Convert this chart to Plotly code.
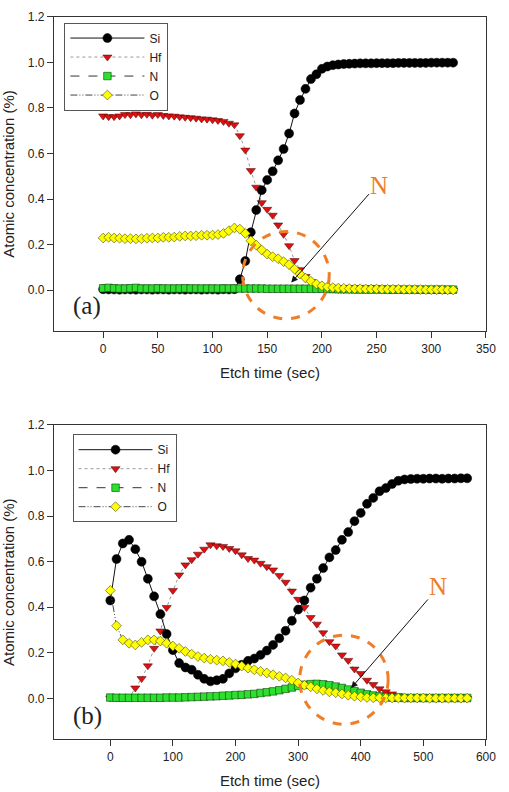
import plotly.graph_objects as go

# ---------------- data: panel (a) ----------------
t_a = [0, 5, 10, 15, 20, 25, 30, 35, 40, 45, 50, 55, 60, 65, 70, 75, 80, 85, 90, 95,
       100, 105, 110, 115, 120, 125, 130, 135, 140, 145, 150, 155, 160, 165, 170, 175,
       180, 185, 190, 195, 200, 205, 210, 215, 220, 225, 230, 235, 240, 245, 250, 255,
       260, 265, 270, 275, 280, 285, 290, 295, 300, 305, 310, 315, 320]

si_a = [0.004, 0.003, 0.003, 0.002, 0.003, 0.003, 0.002, 0.003, 0.003, 0.002, 0.003, 0.003,
        0.002, 0.003, 0.003, 0.002, 0.003, 0.003, 0.002, 0.003, 0.003, 0.002, 0.004, 0.003,
        0.004, 0.048, 0.128, 0.254, 0.352, 0.439, 0.484, 0.522, 0.570, 0.620, 0.688, 0.776,
        0.835, 0.884, 0.927, 0.948, 0.972, 0.982, 0.988, 0.991, 0.993, 0.994, 0.995, 0.996,
        0.996, 0.996, 0.997, 0.997, 0.997, 0.997, 0.998, 0.998, 0.998, 0.998, 0.998, 0.998,
        0.999, 0.999, 0.999, 0.999, 0.999]

hf_a = [0.765, 0.762, 0.762, 0.765, 0.771, 0.770, 0.774, 0.770, 0.772, 0.768, 0.771, 0.767,
        0.765, 0.764, 0.761, 0.759, 0.757, 0.755, 0.752, 0.751, 0.748, 0.745, 0.741, 0.733,
        0.726, 0.678, 0.615, 0.525, 0.452, 0.384, 0.355, 0.329, 0.286, 0.245, 0.195, 0.130,
        0.090, 0.060, 0.038, 0.022, 0.012, 0.007, 0.004, 0.003, 0.002, 0.002, 0.001, 0.001,
        0.001, 0.001, 0.001, 0.001, 0.001, 0.001, 0.001, 0.001, 0.001, 0.001, 0.001, 0.001,
        0.000, 0.000, 0.000, 0.000, 0.000]

n_a = [0.008, 0.010, 0.008, 0.007, 0.007, 0.008, 0.010, 0.007, 0.007, 0.007, 0.008, 0.007,
       0.007, 0.007, 0.007, 0.008, 0.007, 0.007, 0.007, 0.007, 0.007, 0.007, 0.007, 0.007,
       0.007, 0.007, 0.007, 0.007, 0.007, 0.007, 0.006, 0.006, 0.006, 0.006, 0.006, 0.006,
       0.006, 0.006, 0.006, 0.006, 0.006, 0.005, 0.005, 0.004, 0.004, 0.004, 0.003, 0.003,
       0.003, 0.003, 0.003, 0.003, 0.002, 0.002, 0.002, 0.002, 0.002, 0.002, 0.002, 0.002,
       0.002, 0.002, 0.002, 0.002, 0.002]

o_a = [0.229, 0.232, 0.229, 0.228, 0.226, 0.226, 0.225, 0.226, 0.228, 0.229, 0.229, 0.232,
       0.232, 0.233, 0.236, 0.238, 0.238, 0.239, 0.241, 0.241, 0.242, 0.244, 0.249, 0.261,
       0.273, 0.268, 0.249, 0.217, 0.198, 0.176, 0.158, 0.147, 0.138, 0.125, 0.112, 0.092,
       0.071, 0.053, 0.039, 0.027, 0.019, 0.014, 0.011, 0.009, 0.008, 0.007, 0.006, 0.006,
       0.005, 0.005, 0.005, 0.004, 0.004, 0.004, 0.004, 0.003, 0.003, 0.003, 0.003, 0.002,
       0.002, 0.002, 0.002, 0.001, 0.001]

# ---------------- data: panel (b) ----------------
t_b = [0, 10, 20, 30, 40, 50, 60, 70, 80, 90, 100, 110, 120, 130, 140, 150, 160, 170, 180,
       190, 200, 210, 220, 230, 240, 250, 260, 270, 280, 290, 300, 310, 320, 330, 340, 350,
       360, 370, 380, 390, 400, 410, 420, 430, 440, 450, 460, 470, 480, 490, 500, 510, 520,
       530, 540, 550, 560, 570]

si_b = [0.430, 0.612, 0.680, 0.696, 0.655, 0.600, 0.525, 0.448, 0.370, 0.283, 0.212, 0.155,
        0.136, 0.126, 0.104, 0.086, 0.075, 0.080, 0.086, 0.110, 0.132, 0.148, 0.165, 0.175,
        0.191, 0.210, 0.235, 0.264, 0.297, 0.341, 0.390, 0.430, 0.486, 0.525, 0.572, 0.619,
        0.651, 0.696, 0.730, 0.778, 0.814, 0.854, 0.880, 0.909, 0.923, 0.941, 0.955, 0.961,
        0.963, 0.964, 0.964, 0.965, 0.965, 0.964, 0.965, 0.965, 0.966, 0.966]

hf_b = [0.002, 0.002, 0.002, 0.003, 0.046, 0.087, 0.143, 0.220, 0.296, 0.399, 0.474, 0.542,
        0.586, 0.609, 0.633, 0.655, 0.674, 0.670, 0.667, 0.658, 0.648, 0.630, 0.614, 0.607,
        0.593, 0.578, 0.564, 0.539, 0.510, 0.471, 0.435, 0.399, 0.355, 0.326, 0.288, 0.249,
        0.230, 0.191, 0.167, 0.129, 0.109, 0.080, 0.061, 0.042, 0.029, 0.020, 0.012, 0.008,
        0.005, 0.004, 0.003, 0.002, 0.002, 0.002, 0.001, 0.001, 0.001, 0.001]

n_b = [0.004, 0.003, 0.003, 0.003, 0.003, 0.003, 0.003, 0.003, 0.003, 0.004, 0.004, 0.004,
       0.005, 0.006, 0.007, 0.008, 0.009, 0.010, 0.012, 0.013, 0.015, 0.016, 0.018, 0.020,
       0.024, 0.027, 0.031, 0.036, 0.042, 0.048, 0.055, 0.060, 0.063, 0.064, 0.062, 0.058,
       0.052, 0.046, 0.039, 0.032, 0.025, 0.018, 0.013, 0.009, 0.006, 0.004, 0.003, 0.002,
       0.002, 0.002, 0.002, 0.002, 0.002, 0.002, 0.002, 0.002, 0.002, 0.002]

o_b = [0.474, 0.319, 0.257, 0.242, 0.235, 0.246, 0.257, 0.257, 0.252, 0.242, 0.230, 0.220,
       0.206, 0.194, 0.184, 0.177, 0.172, 0.168, 0.165, 0.158, 0.151, 0.142, 0.133, 0.126,
       0.119, 0.112, 0.104, 0.097, 0.090, 0.080, 0.068, 0.058, 0.051, 0.042, 0.035, 0.029,
       0.025, 0.020, 0.014, 0.010, 0.007, 0.004, 0.003, 0.003, 0.002, 0.002, 0.002, 0.002,
       0.002, 0.002, 0.002, 0.001, 0.001, 0.001, 0.001, 0.001, 0.001, 0.001]

y_ticks = [0.0, 0.2, 0.4, 0.6, 0.8, 1.0, 1.2]
x_ticks_a = [0, 50, 100, 150, 200, 250, 300, 350]
x_ticks_b = [0, 100, 200, 300, 400, 500, 600]

# ---------------- styles ----------------
SANS = "Liberation Sans, Arial, sans-serif"
SERIF = "Liberation Serif, Times New Roman, serif"
ORANGE = "#F07D28"

styles = {
    "Si": dict(marker=dict(symbol="circle", size=9, color="#000000",
                           line=dict(color="#000000", width=0.5)),
               line=dict(color="#111111", width=1, dash="solid"), rank=1),
    "Hf": dict(marker=dict(symbol="triangle-down", size=8, color="#DD1111",
                           line=dict(color="#4A0000", width=0.5)),
               line=dict(color="#999999", width=1, dash="dot"), rank=2),
    "N": dict(marker=dict(symbol="square", size=7.5, color="#2EE02E",
                          line=dict(color="#0B3F0B", width=0.6)),
              line=dict(color="#333333", width=1, dash="dash"), rank=3),
    "O": dict(marker=dict(symbol="diamond", size=7.5, color="#FFFF00",
                          line=dict(color="#4A4A00", width=0.6)),
              line=dict(color="#444444", width=1, dash="7px,2px,1px,2px,1px,2px"), rank=4),
}

fig = go.Figure()

panels = [
    ("x", "y", "legend", t_a, {"Si": si_a, "Hf": hf_a, "N": n_a, "O": o_a}),
    ("x2", "y2", "legend2", t_b, {"Si": si_b, "Hf": hf_b, "N": n_b, "O": o_b}),
]
draw_order = ["Hf", "Si", "N", "O"]
for xa, ya, lg, tt, series in panels:
    for name in draw_order:
        st = styles[name]
        fig.add_trace(go.Scatter(
            x=tt, y=series[name], name=name, mode="lines+markers",
            xaxis=xa, yaxis=ya, legend=lg, legendrank=st["rank"],
            marker=st["marker"], line=st["line"], cliponaxis=False,
        ))

axis_common = dict(
    showline=True, linecolor="#333333", linewidth=1, mirror=True,
    ticks="outside", ticklen=6, tickwidth=1, tickcolor="#333333",
    showgrid=False, zeroline=False,
    tickfont=dict(family=SANS, size=12, color="#222222"),
)

XDOM = [55 / 509, 495.7 / 509]
title_font = dict(family=SANS, size=15, color="#222")
legend_common = dict(xanchor="left", yanchor="top", bgcolor="white",
                     bordercolor="#555555", borderwidth=1,
                     font=dict(family=SANS, size=12, color="#222"), itemwidth=74,
                     traceorder="normal")

fig.update_layout(
    width=509, height=792,
    margin=dict(l=0, r=0, t=0, b=0),
    paper_bgcolor="white", plot_bgcolor="white",
    showlegend=True,
    xaxis=dict(domain=XDOM, range=[-45, 350], tickvals=x_ticks_a, anchor="y",
               title=dict(text="Etch time (sec)", font=title_font, standoff=12),
               **axis_common),
    yaxis=dict(domain=[1 - 327 / 792, 1 - 10 / 792], range=[-0.18, 1.2], tickvals=y_ticks,
               tickformat=".1f", anchor="x",
               title=dict(text="Atomic concentration (%)", font=title_font, standoff=10),
               **axis_common),
    xaxis2=dict(domain=XDOM, range=[-90, 600], tickvals=x_ticks_b, anchor="y2",
                title=dict(text="Etch time (sec)", font=title_font, standoff=12),
                **axis_common),
    yaxis2=dict(domain=[1 - 739 / 792, 1 - 421.7 / 792], range=[-0.18, 1.2], tickvals=y_ticks,
                tickformat=".1f", anchor="x2",
                title=dict(text="Atomic concentration (%)", font=title_font, standoff=10),
                **axis_common),
    legend=dict(x=65.7 / 509, y=1 - 15.7 / 792, **legend_common),
    legend2=dict(x=74 / 509, y=1 - 431 / 792, **legend_common),
    shapes=[
        dict(type="circle", xref="x", yref="y", x0=127.5, x1=206.7, y0=-0.126, y1=0.258,
             line=dict(color=ORANGE, width=3, dash="dash")),
        dict(type="circle", xref="x2", yref="y2", x0=302.4, x1=443.8, y0=-0.113, y1=0.278,
             line=dict(color=ORANGE, width=3, dash="dash")),
    ],
    annotations=[
        dict(xref="x", yref="y", x=-14.7, y=-0.068, text="(a)", showarrow=False,
             font=dict(family=SERIF, size=25, color="#222")),
        dict(xref="x2", yref="y2", x=-36.7, y=-0.077, text="(b)", showarrow=False,
             font=dict(family=SERIF, size=25, color="#222")),
        dict(xref="x", yref="y", x=252.2, y=0.461, text="N", showarrow=False,
             font=dict(family=SERIF, size=25, color=ORANGE)),
        dict(xref="x2", yref="y2", x=523.3, y=0.493, text="N", showarrow=False,
             font=dict(family=SERIF, size=25, color=ORANGE)),
        dict(xref="x", yref="y", x=172, y=0.033, ax=79, ay=-90, text="", showarrow=True,
             arrowhead=2, arrowsize=1.3, arrowwidth=1, arrowcolor="#111", standoff=0),
        dict(xref="x2", yref="y2", x=384.8, y=0.046, ax=78, ay=-90, text="", showarrow=True,
             arrowhead=2, arrowsize=1.3, arrowwidth=1, arrowcolor="#111", standoff=0),
    ],
)

fig.write_html("out.html")
